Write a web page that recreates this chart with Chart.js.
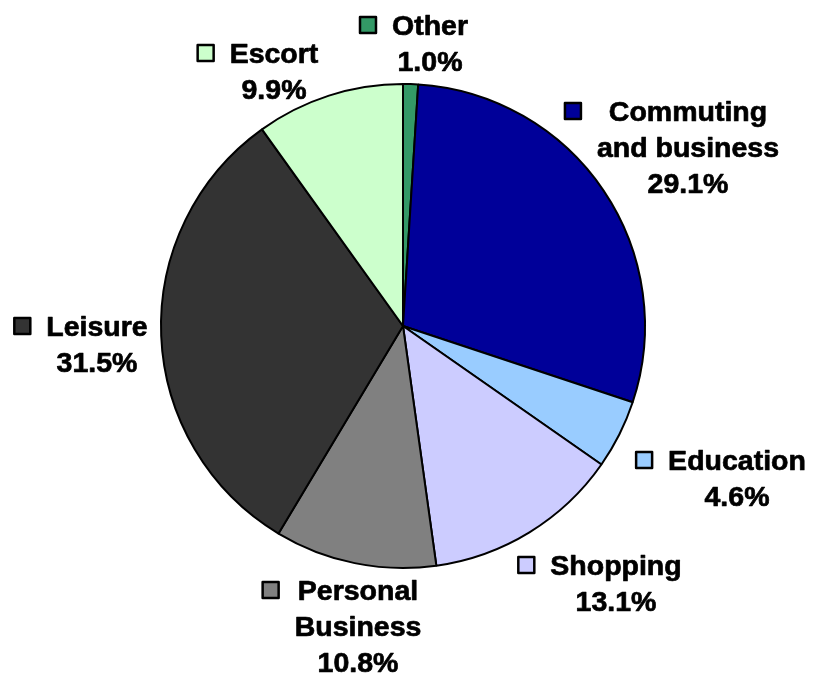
<!DOCTYPE html>
<html>
<head>
<meta charset="utf-8">
<title>Trip purposes</title>
<script src="https://cdn.jsdelivr.net/npm/chart.js@4.4.1/dist/chart.umd.min.js"></script>
<style>
  html, body { margin: 0; padding: 0; background: #fff; }
  canvas { display: block; }
</style>
</head>
<body>
<canvas id="myChart" width="814" height="677"></canvas>
<script>
// slices, clockwise from 12 o'clock
const categories = ['Other', 'Commuting and business', 'Education', 'Shopping', 'Personal Business', 'Leisure', 'Escort']
const shares = [1.0, 29.1, 4.6, 13.1, 10.8, 31.5, 9.9]
const sliceColors = ['#339966', '#000099', '#99CCFF', '#CCCCFF', '#808080', '#333333', '#CCFFCC']

// how the category names wrap in the labels
const labelLines = [
    ['Other'],
    ['Commuting', 'and business'],
    ['Education'],
    ['Shopping'],
    ['Personal', 'Business'],
    ['Leisure'],
    ['Escort']
]

// where each label block sits: centre x, middle of first line
const labelAnchors = [
    [430, 27], [688, 113], [737, 462], [616, 567], [358, 592], [97, 328], [274, 55]
]

const fmtPct = v => `${v.toFixed(1)}%`

const outsideLabels = {
    id: 'outsideLabels',
    afterDraw(chart) {
        const ctx = chart.ctx
        const ds = chart.data.datasets[0]
        ctx.save()
        ctx.font = 'bold 28.5px "Liberation Sans", Arial, sans-serif'
        ctx.textAlign = 'center'
        ctx.textBaseline = 'middle'
        ctx.lineJoin = 'round'
        const lineH = 36

        ds.data.forEach((v, i) => {
            const lines = labelLines[i].concat([fmtPct(v)])
            const [cx, y0] = labelAnchors[i]
            let maxW = 0
            lines.forEach(l => { maxW = Math.max(maxW, ctx.measureText(l).width) })

            // a thin stroke makes it as heavy as the original
            ctx.fillStyle = '#000'
            ctx.strokeStyle = '#000'
            ctx.lineWidth = 0.7
            lines.forEach((l, k) => {
                ctx.fillText(l, cx, y0 + k * lineH)
                ctx.strokeText(l, cx, y0 + k * lineH)
            })

            // little colour key in front of the first line
            const left = cx - maxW / 2
            const sz = 16
            const sx = left - 16 - sz
            const sy = y0 - 2 - sz / 2
            ctx.fillStyle = ds.backgroundColor[i]
            ctx.fillRect(sx, sy, sz, sz)
            ctx.lineWidth = 2.5
            ctx.strokeRect(sx, sy, sz, sz)
        })
        ctx.restore()
    }
}

const ctx = document.getElementById('myChart').getContext('2d')

const myChart = new Chart(ctx, {
    type: 'pie',
    data: {
        labels: categories,
        datasets: [
            {
                data: shares,
                backgroundColor: sliceColors,
                borderColor: '#000',
                borderWidth: 2,
                radius: 242
            }
        ]
    },
    options: {
        responsive: false,
        animation: false,
        layout: {
            padding: { left: 0, right: 8, top: 0, bottom: 25 }
        },
        plugins: {
            legend: { display: false },
            tooltip: { enabled: false }
        }
    },
    plugins: [outsideLabels]
})
</script>
</body>
</html>
